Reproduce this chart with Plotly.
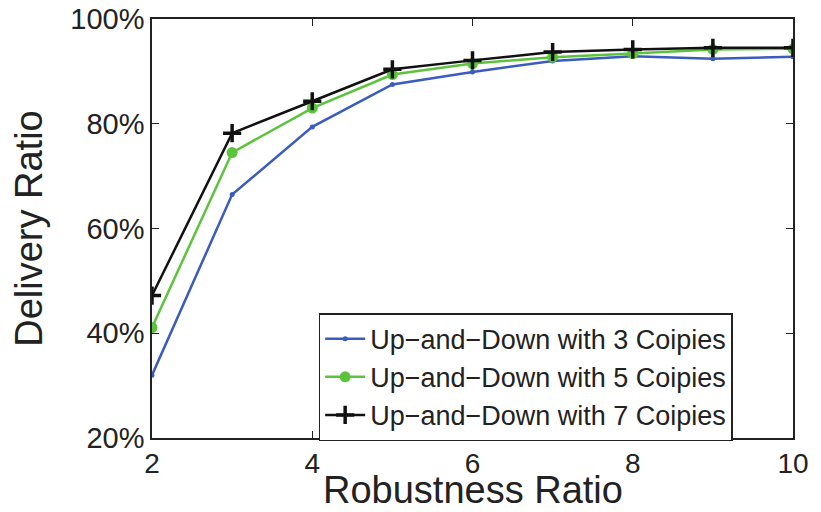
import plotly.graph_objects as go

x_vals = [2, 3, 4, 5, 6, 7, 8, 9, 10]
copies3 = [32.0, 66.5, 79.4, 87.5, 89.9, 92.0, 92.9, 92.4, 92.8]
copies5 = [41.1, 74.5, 83.0, 89.4, 91.5, 92.7, 93.4, 94.2, 94.3]
copies7 = [47.2, 78.2, 84.3, 90.4, 92.1, 93.7, 94.2, 94.5, 94.5]
names = ["Up\u2212and\u2212Down with 3 Coipies",
         "Up\u2212and\u2212Down with 5 Coipies",
         "Up\u2212and\u2212Down with 7 Coipies"]
y_ticks = [20, 40, 60, 80, 100]
y_labels = ["20%", "40%", "60%", "80%", "100%"]
x_ticks = [2, 4, 6, 8, 10]
x_title = "Robustness Ratio"
y_title = "Delivery Ratio"

fig = go.Figure()
fig.add_trace(go.Scatter(x=x_vals, y=copies3, name=names[0], mode="lines+markers",
                         line=dict(color="#3a5bbf", width=2.5),
                         marker=dict(symbol="circle", size=5, color="#3a5bbf")))
fig.add_trace(go.Scatter(x=x_vals, y=copies5, name=names[1], mode="lines+markers",
                         line=dict(color="#5cc43c", width=2.5),
                         marker=dict(symbol="circle", size=11, color="#5cc43c")))
fig.add_trace(go.Scatter(x=x_vals, y=copies7, name=names[2], mode="lines+markers",
                         line=dict(color="#111111", width=2.5),
                         marker=dict(symbol="cross-thin", size=13,
                                     line=dict(color="#111111", width=3.5), color="#111111")))

font_family = "Liberation Sans, Arial, sans-serif"
fig.update_layout(
    width=821, height=512,
    margin=dict(l=144, r=36, t=11, b=82, autoexpand=False),
    plot_bgcolor="white", paper_bgcolor="white",
    font=dict(family=font_family, color="#222222"),
    showlegend=True,
    legend=dict(x=0.26, y=0.298, xanchor="left", yanchor="top",
                bordercolor="#222222", borderwidth=1.5, bgcolor="white",
                font=dict(size=27, color="#222222", family=font_family),
                tracegroupgap=0, itemwidth=40,
                entrywidth=420, entrywidthmode="pixels"),
    xaxis=dict(range=[2, 10], tickvals=x_ticks, ticks="inside", ticklen=7,
               tickcolor="#222222", showline=True, linecolor="#222222", linewidth=1.5,
               mirror="ticks", showgrid=False, zeroline=False, automargin=True,
               ticklabeloverflow="allow",
               tickfont=dict(size=28)),
    yaxis=dict(range=[20, 100], tickvals=y_ticks, ticktext=y_labels, ticks="inside",
               ticklen=7, tickcolor="#222222", showline=True, linecolor="#222222",
               linewidth=1.5, mirror="ticks", showgrid=False, zeroline=False,
               automargin=True, ticklabeloverflow="allow",
               tickfont=dict(size=29),
               title=dict(text=y_title, font=dict(size=38), standoff=29)),
    annotations=[dict(text=x_title, xref="paper", yref="paper", x=0.5, y=-0.125,
                      xanchor="center", yanchor="middle", showarrow=False,
                      font=dict(size=38, color="#222222", family=font_family))],
)

fig.write_html("out.html")
